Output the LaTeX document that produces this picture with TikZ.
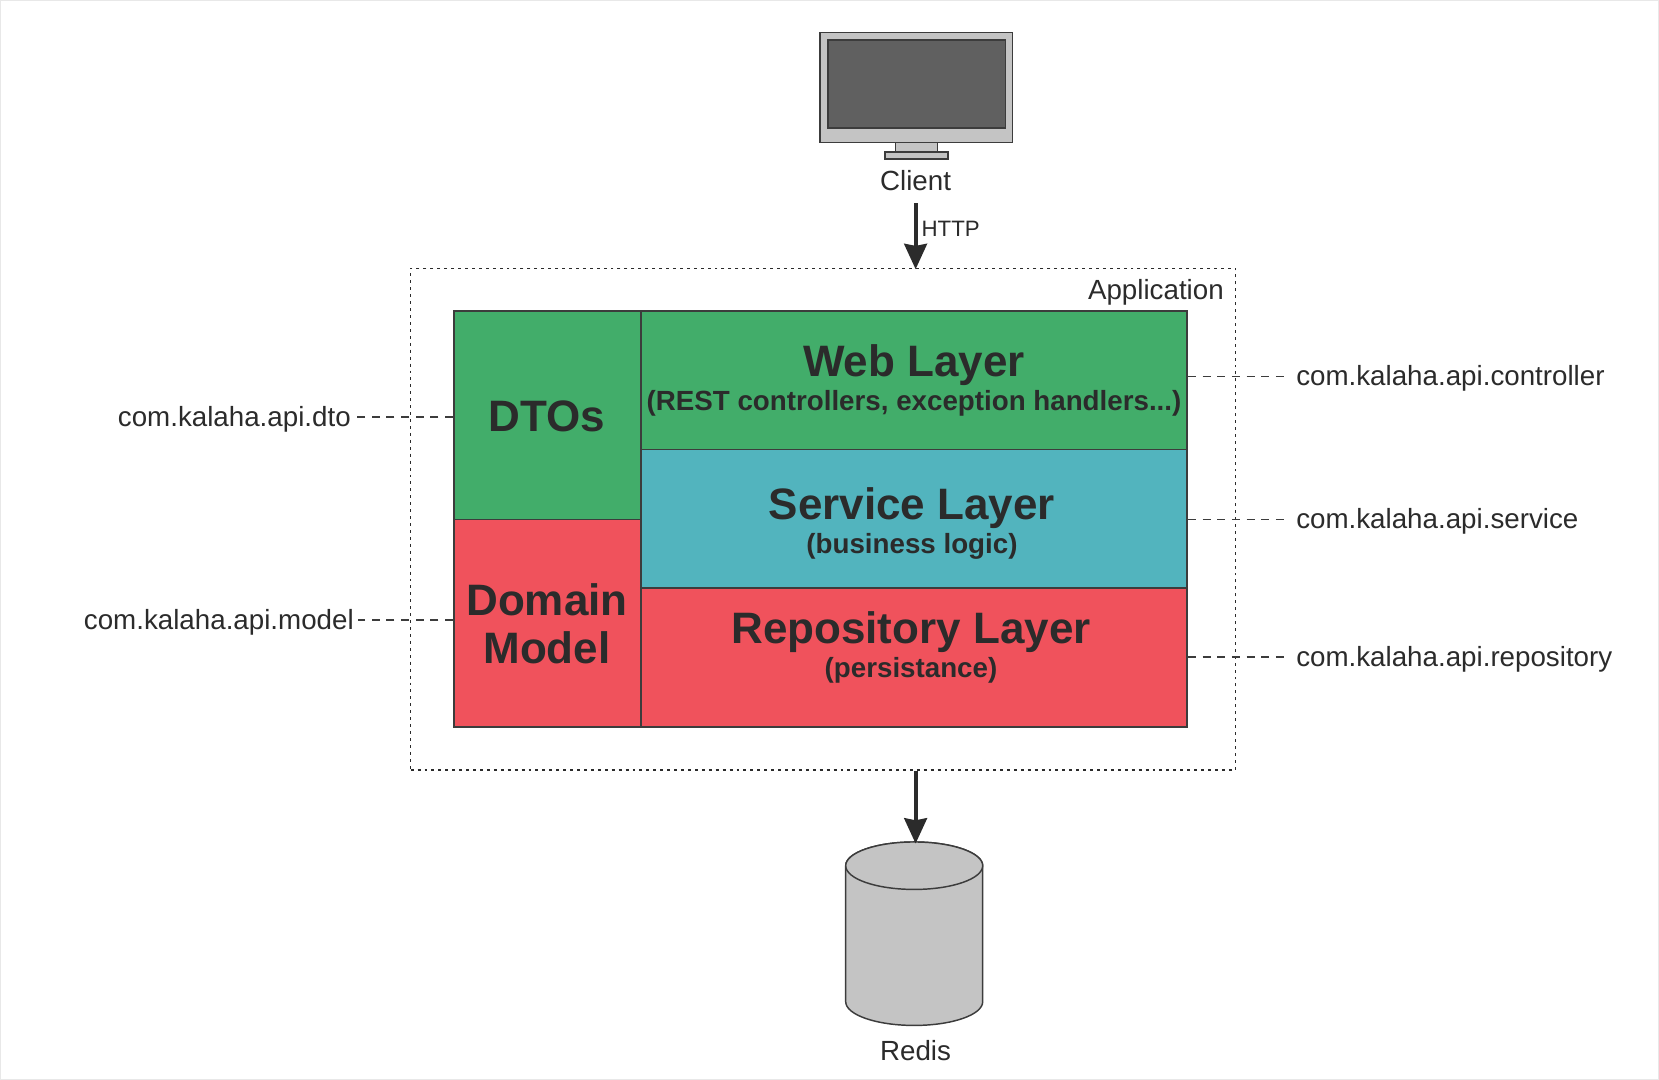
\documentclass[tikz,border=0pt]{standalone}
\usepackage{fontspec}
\setmainfont{Liberation Sans}
\usetikzlibrary{arrows.meta}
\definecolor{inkdark}{HTML}{2B2B2B}
\definecolor{edgedark}{HTML}{3C3C3C}
\definecolor{webgreen}{HTML}{42AD6A}
\definecolor{serviceteal}{HTML}{52B4BE}
\definecolor{repored}{HTML}{F0525C}
\definecolor{devicegray}{HTML}{C4C4C4}
\definecolor{screengray}{HTML}{606060}
\definecolor{framegray}{HTML}{E8E8E8}
\tikzset{
  layerbox/.style={draw=edgedark, line width=1.3pt, inner sep=0pt, minimum width=409.5pt, minimum height=104pt},
  sidebox/.style={draw=edgedark, line width=1.3pt, inner sep=0pt, minimum width=140.25pt},
  devicebox/.style={draw=edgedark, line width=1pt, fill=devicegray, inner sep=0pt},
  dbshape/.style={draw=edgedark, line width=1.1pt, fill=devicegray},
  pkglabel/.style={text=inkdark, font=\fontsize{20.8}{25}\selectfont, inner sep=3pt},
  pkgname/.style={pkglabel, text height=14pt, text depth=0pt},
  titletext/.style={text=inkdark, align=center, font=\fontsize{33}{36}\selectfont\bfseries, inner sep=0pt},
  pkgline/.style={edgedark, line width=0.9pt, dash pattern=on 6pt off 5pt},
  flow/.style={inkdark, line width=3pt, shorten >=-1.2pt, -{Stealth[length=19pt,width=17pt,inset=1.5pt]}}
}
\newcommand{\subline}[1]{{\fontsize{20.8}{25}\selectfont #1}}
\begin{document}
\begin{tikzpicture}[x=0.75pt, y=-0.75pt]
  % frame of the page
  \useasboundingbox (0,0) rectangle (1659,1080);
  \draw[framegray, line width=1pt] (0.5,0.5) rectangle (1658.5,1079.5);
  % client monitor
  \node[devicebox, minimum width=144.4pt, minimum height=82.4pt] (monitor) at (916.25,87.7) {};
  \node[draw=edgedark, line width=1pt, fill=screengray, inner sep=0pt, minimum width=133pt, minimum height=66pt] (screen) at (916.5,84) {};
  \node[devicebox, minimum width=31.2pt, minimum height=7pt] (neck) at (916.5,147.35) {};
  \node[devicebox, minimum width=47.25pt, minimum height=5.25pt] (stand) at (916.5,155.5) {};
  \node[pkglabel, inner sep=9pt] (clientlbl) at (915.6,181) {Client};
  % application
  \node[draw=inkdark, line width=1pt, dash pattern=on 2.2pt off 3pt, inner sep=0pt, minimum width=618.5pt, minimum height=376.3pt] (appbox) at (823,519.15) {};
  \node[pkglabel, anchor=east] (applbl) at (1228,292) {Application};
  % side boxes
  \node[sidebox, fill=webgreen, minimum height=156.4pt] (dtobox) at (547.5,415.25) {};
  \node[sidebox, fill=repored, minimum height=155.6pt] (modelbox) at (547.5,623.25) {};
  % layers
  \node[layerbox, fill=webgreen] (webbox) at (914,380.3) {};
  \node[layerbox, fill=serviceteal] (servicebox) at (914,518.8) {};
  \node[layerbox, fill=repored] (repobox) at (914,657.5) {};
  % box texts
  \node[titletext] (dtotext) at (547,416) {DTOs};
  \node[titletext] (modeltext) at (547,624) {Domain\\Model};
  \node[titletext] (webtext) at (914,380) {Web Layer\\[-10.5pt]\subline{(REST controllers, exception handlers...)}};
  \node[titletext] (servicetext) at (912,523) {Service Layer\\[-10.5pt]\subline{(business logic)}};
  \node[titletext] (repotext) at (911,647) {Repository Layer\\[-10.5pt]\subline{(persistance)}};
  % database
  \coordinate (redistop) at (914.2,842);
  \draw[dbshape] (845.7,865.7) -- (845.7,1001.7) arc[start angle=180, end angle=360, x radius=51.375pt, y radius=17.8pt] -- ++(0,-136) arc[start angle=0, end angle=180, x radius=51.375pt, y radius=17.8pt] -- cycle;
  \draw[dbshape] (914.2,865.7) ellipse [x radius=51.375pt, y radius=17.8pt];
  \node[pkglabel] (redislbl) at (915.5,1051) {Redis};
  % package labels
  \node[pkgname, anchor=east] (dtopkg) at (355,417) {com.kalaha.api.dto};
  \node[pkgname, anchor=east] (modelpkg) at (358,620) {com.kalaha.api.model};
  \node[pkgname, anchor=west, inner sep=6pt] (webpkg) at (1288,376.3) {com.kalaha.api.controller};
  \node[pkgname, anchor=west, inner sep=6pt] (servicepkg) at (1288,519.5) {com.kalaha.api.service};
  \node[pkgname, anchor=west, inner sep=6pt] (repopkg) at (1288,657) {com.kalaha.api.repository};
  % dashed links
  \draw[pkgline] (dtopkg -| dtobox.west) -- (dtopkg);
  \draw[pkgline] (modelpkg -| modelbox.west) -- (modelpkg);
  \draw[pkgline] (webpkg -| webbox.east) -- (webpkg);
  \draw[pkgline] (servicepkg -| servicebox.east) -- (servicepkg);
  \draw[pkgline] (repopkg -| repobox.east) -- (repopkg);
  % arrows
  \draw[flow] (clientlbl) -- node[pos=0.4, right, text=inkdark, font=\fontsize{16.7}{20}\selectfont, inner sep=3pt] (httplbl) {HTTP} (clientlbl |- appbox.north);
  \draw[flow] (clientlbl |- appbox.south) -- (clientlbl |- redistop);
\end{tikzpicture}
\end{document}
